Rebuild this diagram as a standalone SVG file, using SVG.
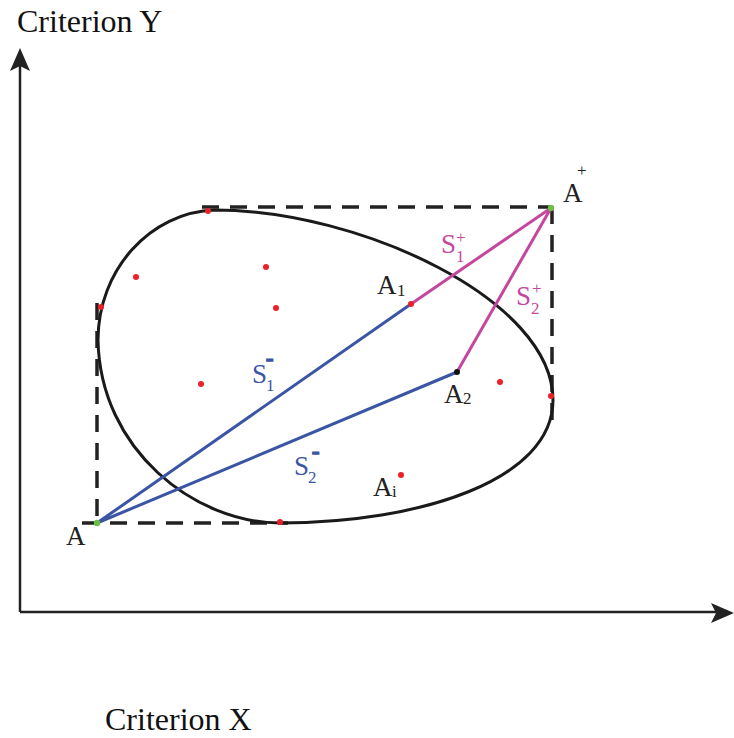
<svg xmlns="http://www.w3.org/2000/svg" width="734" height="738" viewBox="0 0 734 738">
<style>
text{font-family:"Liberation Serif","Times New Roman",serif;}
.lbl{font-size:27px;fill:#222;}
.sub{font-size:17px;fill:#222;}
.axis{font-size:32px;fill:#111;}
.ax{stroke:#222;stroke-width:2.5;fill:none;}
.dash{stroke:#222;stroke-width:3.5;fill:none;stroke-dasharray:17 11;}
.curve{stroke:#1a1a1a;stroke-width:3;fill:none;}
.neg{stroke:#3b55a5;stroke-width:3;fill:none;}
.pos{stroke:#c4479e;stroke-width:3;fill:none;}
.red{fill:#ec2029;}
.green{fill:#6cbf45;}
.tneg{fill:#3b55a5;}
.tpos{fill:#c4479e;}
.minus{font-size:22px;font-weight:bold;stroke:#3b55a5;stroke-width:1.6;}
</style>
<rect width="734" height="738" fill="#fff"/>
<g id="axes">
<path class="ax" d="M20 612 V62 M20 612 H722"/>
<path d="M20 48 L30 71 L20 66 L10 71 Z" fill="#222"/>
<path d="M734 613 L711 603 L716 613 L711 623 Z" fill="#222"/>
<text class="axis" x="17" y="32">Criterion Y</text>
<text class="axis" x="105" y="730">Criterion X</text>
</g>
<g id="bounds">
<path class="dash" d="M202 207 H552"/>
<path class="dash" d="M552 207 V428"/>
<path class="dash" d="M97 303 V523"/>
<path class="dash" d="M82 523 H288"/>
</g>
<g id="envelope">
<path class="curve" d="M215 210 C360 210 553 300 553 400 C553 480 420 523 280 523 C195 523 100 450 98 340 C98 270 150 212 215 210 Z"/>
</g>
<g id="connectors">
<line class="neg" x1="97" y1="523" x2="411" y2="304"/>
<line class="neg" x1="97" y1="523" x2="457" y2="372"/>
<line class="pos" x1="551" y1="208" x2="411" y2="304"/>
<line class="pos" x1="551" y1="208" x2="457" y2="372"/>
</g>
<g id="points">
<circle class="red" cx="208" cy="211" r="3"/>
<circle class="red" cx="136" cy="277" r="3"/>
<circle class="red" cx="266" cy="267" r="3"/>
<circle class="red" cx="276" cy="308" r="3"/>
<circle class="red" cx="101" cy="307" r="3"/>
<circle class="red" cx="201" cy="384" r="3"/>
<circle class="red" cx="500" cy="382" r="3"/>
<circle class="red" cx="551" cy="396" r="3"/>
<circle class="red" cx="401" cy="475" r="3"/>
<circle class="red" cx="280" cy="522" r="3"/>
</g>
<g id="node-Aminus">
<circle class="green" cx="97" cy="523" r="3.2"/>
<text class="lbl" x="66" y="545">A</text>
</g>
<g id="node-Aplus">
<circle class="green" cx="551" cy="208" r="3.2"/>
<text class="lbl" x="563" y="202">A</text>
<text class="sub" x="577" y="176">+</text>
</g>
<g id="node-A1">
<circle class="red" cx="411" cy="304" r="3"/>
<text class="lbl" x="377" y="294">A</text>
<text class="sub" x="397" y="296">1</text>
</g>
<g id="node-A2">
<circle cx="457" cy="372" r="3" fill="#111"/>
<text class="lbl" x="444" y="403">A</text>
<text class="sub" x="463" y="404">2</text>
</g>
<g id="node-Ai">
<text class="lbl" x="373" y="496">A</text>
<text class="sub" x="392" y="497">i</text>
</g>
<g id="labels">
<text class="lbl tneg" x="252" y="383">S</text>
<text class="sub tneg" x="266" y="391">1</text>
<text class="tneg minus" x="266" y="365">-</text>
<text class="lbl tneg" x="294" y="475">S</text>
<text class="sub tneg" x="308" y="483">2</text>
<text class="tneg minus" x="312" y="458">-</text>
<text class="lbl tpos" x="441" y="253">S</text>
<text class="sub tpos" x="456" y="262">1</text>
<text class="sub tpos" x="456" y="243">+</text>
<text class="lbl tpos" x="516" y="305">S</text>
<text class="sub tpos" x="531" y="314">2</text>
<text class="sub tpos" x="532" y="294">+</text>
</g>
</svg>
